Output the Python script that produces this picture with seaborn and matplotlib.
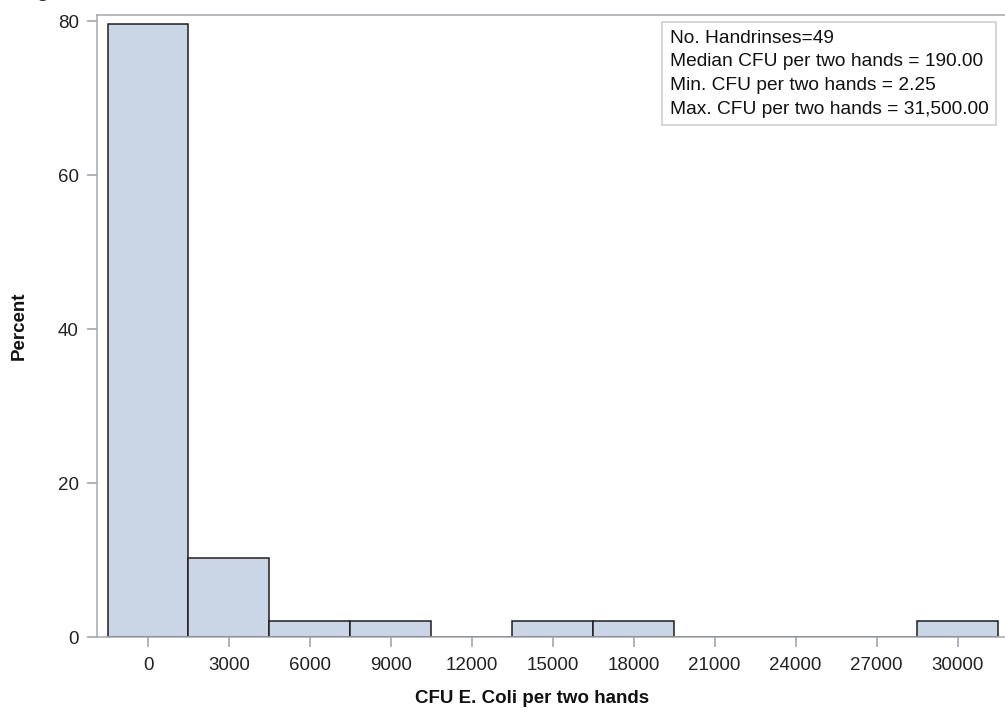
import numpy as np
import pandas as pd
import matplotlib.pyplot as plt
import seaborn as sns

# bin centres (CFU per two hands) and number of handrinses in each bin
bin_centers = [0, 3000, 6000, 9000, 12000, 15000, 18000, 21000, 24000, 27000, 30000]
counts = [39, 5, 1, 1, 0, 1, 1, 0, 0, 0, 1]
bin_width = 3000
xticks = list(range(0, 30001, 3000))
yticks = [0, 20, 40, 60, 80]
stats_lines = [
    "No. Handrinses=49",
    "Median CFU per two hands = 190.00",
    "Min. CFU per two hands = 2.25",
    "Max. CFU per two hands = 31,500.00",
]

sns.set_style("white")
plt.rcParams["font.family"] = ["Liberation Sans", "DejaVu Sans"]

df = pd.DataFrame({"cfu": bin_centers, "n": counts})
lo = bin_centers[0] - bin_width / 2
hi = bin_centers[-1] + bin_width / 2

W, H = 1005, 713
fig = plt.figure(figsize=(W / 100, H / 100), dpi=100)
# plot area: x 97..1010 px (right side runs off the image), y 15..637 px
ax = fig.add_axes([97 / W, (H - 637) / H, 913 / W, 622 / H])

sns.histplot(data=df, x="cfu", weights="n", binwidth=bin_width, binrange=(lo, hi),
             stat="percent", color="#CAD5E5", alpha=1, edgecolor="#1e1e1e",
             linewidth=1.1, ax=ax)

ax.set_xlim(-1890, 31944)
ax.set_ylim(0, 80.8)
ax.set_xticks(xticks)
ax.set_yticks(yticks)
ax.tick_params(axis="both", bottom=True, left=True, labelsize=13.5,
               colors="#9a9ea6", labelcolor="#222222",
               length=7, width=1.1, direction="out")
ax.tick_params(axis="x", pad=7.5)
ax.tick_params(axis="y", pad=6)
for s in ax.spines.values():
    s.set_color("#a4a8ae")
    s.set_linewidth(1.1)

ax.set_xlabel("CFU E. Coli per two hands", fontsize=13.5, fontweight="bold", color="#111111")
ax.set_ylabel("Percent", fontsize=13.5, fontweight="bold", color="#111111")
ax.xaxis.set_label_coords(435 / 913, -53 / 622)
ax.yaxis.set_label_coords(-69 / 913, 0.5)

ax.text(573 / 913, 1 - 15 / 622, "\n".join(stats_lines), transform=ax.transAxes,
        ha="left", va="top", fontsize=13.8, linespacing=1.5, color="#111111",
        bbox=dict(boxstyle="square,pad=0.4", facecolor="white", edgecolor="#cccccc",
                  linewidth=1.1))

# descender of the clipped title at the very top of the image
fig.text(36 / W, 1 + 3 / H, "g", fontsize=14, fontweight="bold", va="baseline", ha="left")

fig.savefig("out.png", dpi=100)
